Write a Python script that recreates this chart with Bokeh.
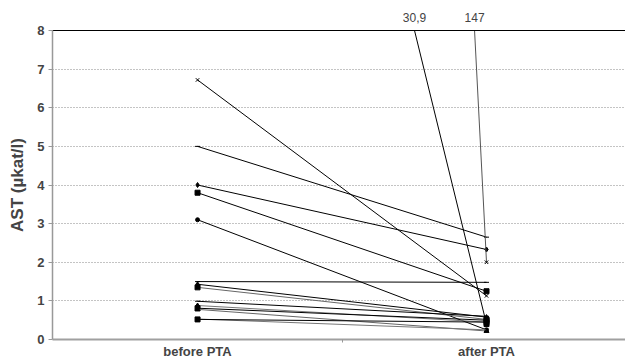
from bokeh.plotting import figure
from bokeh.models import FixedTicker, Range1d, LinearAxis
from bokeh.embed import file_html
from bokeh.resources import INLINE

categories = ["before PTA", "after PTA"]
y_ticks = [0, 1, 2, 3, 4, 5, 6, 7, 8]

before = [6.72, 5.0, 4.0, 3.8, 3.1, 30.9, 147.0, 1.50, 1.43, 1.35, 0.99, 0.88, 0.81, 0.78, 0.53, 0.52]
after = [1.13, 2.65, 2.33, 1.25, 0.25, 0.40, 2.00, 1.48, 0.58, 0.52, 0.60, 0.45, 0.50, 0.22, 0.25, 0.45]
markers = ["x", "dash", "diamond", "square", "circle", "square", "x", "dash",
           "diamond", "square", "dash", "diamond", "square", "triangle", "x", "square"]
colors = ["black", "black", "black", "black", "black", "black", "#555555", "black",
          "black", "#666666", "black", "#777777", "black", "#666666", "#777777", "black"]
off_scale_labels = {30.9: "30,9", 147.0: "147"}

Y_MAX = 8

p = figure(width=625, height=361, output_backend="svg", toolbar_location=None,
           x_range=Range1d(-0.502, 1.481), y_range=Range1d(0, Y_MAX),
           min_border_left=52, min_border_top=30, min_border_right=0, min_border_bottom=20)
p.outline_line_color = None
p.background_fill_color = "white"

for b, a, m, c in zip(before, after, markers, colors):
    p.line([0, 1], [b, a], line_color=c, line_width=1)
    size = 4 if m == "circle" else 5
    p.scatter([0, 1], [b, a], marker=m, size=size, line_color="black", fill_color="black", line_width=1)

# top axis: border line plus labels of off-scale values where their lines leave the frame
cross_x = []
cross_labels = {}
for b, a in zip(before, after):
    if b > Y_MAX:
        xc = (b - Y_MAX) / (b - a)
        cross_x.append(xc)
        cross_labels[xc] = off_scale_labels[b]
top = LinearAxis(ticker=FixedTicker(ticks=cross_x), major_label_overrides=cross_labels)
top.axis_line_color = "black"
top.axis_line_width = 1
top.major_tick_line_color = None
top.minor_tick_line_color = None
top.major_label_text_font = "Liberation Sans"
top.major_label_text_font_size = "12px"
top.major_label_standoff = 3
p.add_layout(top, "above")

# axes
p.yaxis.ticker = FixedTicker(ticks=y_ticks)
p.yaxis.axis_label = "AST (µkat/l)"
p.yaxis.axis_label_text_font = "Liberation Sans"
p.yaxis.axis_label_text_font_style = "bold"
p.yaxis.axis_label_text_font_size = "17px"
p.yaxis.axis_label_standoff = 7
p.yaxis.major_label_text_font = "Liberation Sans"
p.yaxis.major_label_text_font_style = "bold"
p.yaxis.major_label_text_font_size = "13px"
p.yaxis.major_label_standoff = 4
p.yaxis.axis_line_color = "#999999"
p.yaxis.axis_line_width = 1.5
p.yaxis.major_tick_line_color = "#999999"
p.yaxis.major_tick_in = 0
p.yaxis.major_tick_out = 4
p.yaxis.minor_tick_line_color = None

xa = p.below[0]
xa.ticker = FixedTicker(ticks=[0, 1], minor_ticks=[0.5])
xa.major_label_overrides = {0: categories[0], 1: categories[1]}
xa.major_label_text_font = "Liberation Sans"
xa.major_label_text_font_style = "bold"
xa.major_label_text_font_size = "13px"
xa.major_label_standoff = -2
xa.axis_line_color = "#a0a0a0"
xa.axis_line_width = 2
xa.major_tick_line_color = None
xa.minor_tick_line_color = "#999999"
xa.minor_tick_in = 0
xa.minor_tick_out = 3

p.xgrid.grid_line_color = None
p.ygrid.ticker = FixedTicker(ticks=y_ticks[1:-1])
p.ygrid.grid_line_color = "#888888"
p.ygrid.grid_line_dash = "1 2"
p.ygrid.grid_line_width = 1

open("out.html", "w").write(file_html(p, INLINE))
